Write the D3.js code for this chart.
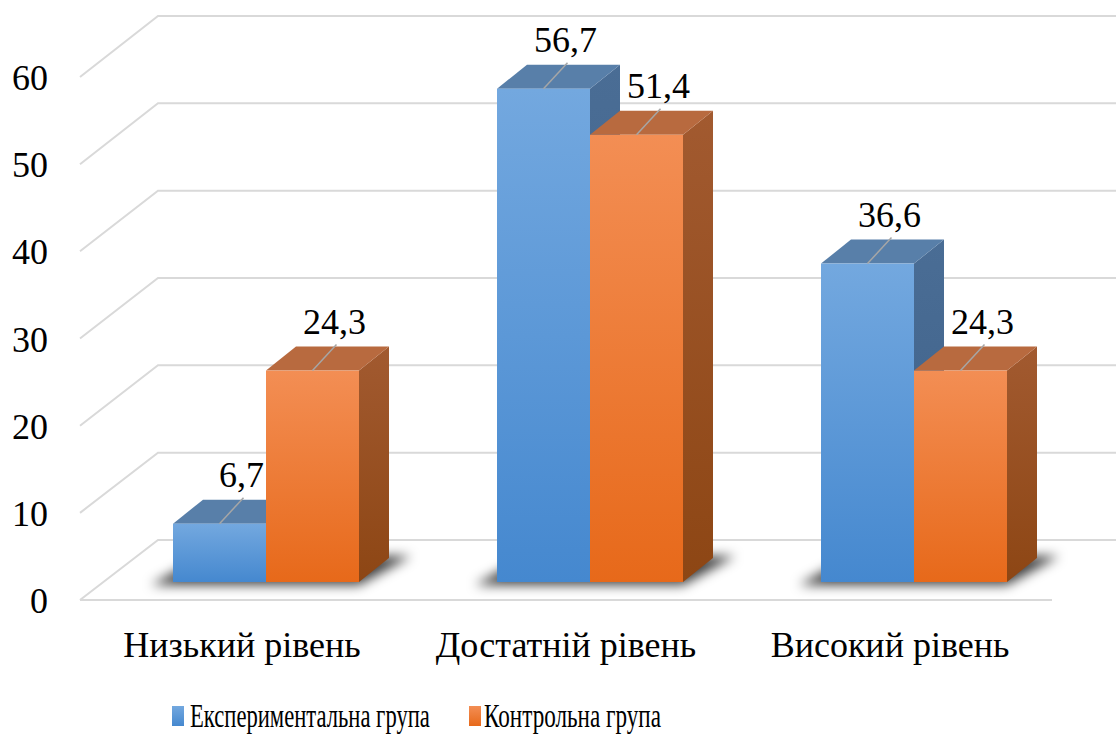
<!DOCTYPE html>
<html>
<head>
<meta charset="utf-8">
<script src="https://cdn.jsdelivr.net/npm/d3@7"></script>
<style>
	body { margin: 0; background: #fff; }
</style>
</head>
<body>
<svg id="chart" width="1116" height="736"></svg>
<script>
var categories = ["Низький рівень", "Достатній рівень", "Високий рівень"];
var seriesNames = ["Експериментальна група", "Контрольна група"];
var experimental = [6.7, 56.7, 36.6];
var control = [24.3, 51.4, 24.3];
var yTicks = [0, 10, 20, 30, 40, 50, 60];

var W = 1116, H = 736;
var FONT = "Liberation Serif";
var svg = d3.select("#chart");

// 3D box: front edge of the walls and back wall
var yFront = d3.scaleLinear().domain([0, 60]).range([600, 77]);
var yBack = d3.scaleLinear().domain([0, 60]).range([540, 16]);
var xFront = 80, xBack = 158, xFloorEnd = 1052;
// bars stand in the middle of the floor
var yBar = d3.scaleLinear().domain([0, 60]).range([582, 60]);
var xGroup = d3.scalePoint().domain(categories).range([266, 914]);
var xSeries = d3.scaleBand().domain(seriesNames).range([-93, 93]);
var depth = { dx: 30, dy: 24 };

var fmt = function(v) { return d3.format(".1f")(v).replace(".", ","); };

var colors = [
	{ frontTop: "#73a8df", frontBot: "#4588cf", top: "#587fa9", sideTop: "#4a6d95", sideBot: "#3d6088" },
	{ frontTop: "#f38e54", frontBot: "#e7691a", top: "#b86a3f", sideTop: "#a25a30", sideBot: "#8d4614" }
];

var defs = svg.append("defs");
colors.forEach(function(c, i) {
	var g = defs.append("linearGradient").attr("id", "front" + i)
		.attr("x1", 0).attr("y1", 0).attr("x2", 0).attr("y2", 1);
	g.append("stop").attr("offset", "0%").attr("stop-color", c.frontTop);
	g.append("stop").attr("offset", "100%").attr("stop-color", c.frontBot);
	var s = defs.append("linearGradient").attr("id", "side" + i)
		.attr("x1", 0).attr("y1", 0).attr("x2", 0).attr("y2", 1);
	s.append("stop").attr("offset", "0%").attr("stop-color", c.sideTop);
	s.append("stop").attr("offset", "100%").attr("stop-color", c.sideBot);
});
defs.append("filter").attr("id", "blur")
	.attr("x", "-20%").attr("y", "-50%").attr("width", "140%").attr("height", "200%")
	.append("feGaussianBlur").attr("stdDeviation", 6);

// gridlines: side wall diagonal + back wall
var grid = svg.append("g").attr("fill", "none").attr("stroke", "#d9d9d9").attr("stroke-width", 2);
yTicks.forEach(function(t) {
	grid.append("polyline")
		.attr("points", [[xFront, yFront(t)], [xBack, yBack(t)], [W, yBack(t)]].join(" "));
});
grid.append("line")
	.attr("x1", xFront).attr("y1", yFront(0))
	.attr("x2", xFloorEnd).attr("y2", yFront(0));

// y tick labels
svg.append("g").selectAll("text").data(yTicks).enter().append("text")
	.attr("x", 48).attr("y", function(d) { return yFront(d) + 13; })
	.attr("text-anchor", "end").attr("font-size", 36).attr("font-family", FONT)
	.text(function(d) { return d; });

// shadows on the floor
var shadows = svg.append("g").attr("filter", "url(#blur)");
categories.forEach(function(c) {
	var x0 = xGroup(c) - 93, x1 = xGroup(c) + 93, yb = yBar(0);
	shadows.append("polygon")
		.attr("points", [[x0 - 22, yb + 3], [x1, yb + 3], [x1 + depth.dx + 22, yb - depth.dy - 2], [x0 + depth.dx, yb - depth.dy - 2]].join(" "))
		.attr("fill", "#000").attr("opacity", 0.75);
});

// bars
var series = [experimental, control];
var bars = svg.append("g");
var labels = svg.append("g");
categories.forEach(function(c, ci) {
	series.forEach(function(vals, si) {
		var v = vals[ci];
		var x0 = xGroup(c) + xSeries(seriesNames[si]);
		var x1 = x0 + xSeries.bandwidth();
		var yt = yBar(v), yb = yBar(0);
		var dx = depth.dx, dy = depth.dy;
		var col = colors[si];
		bars.append("polygon")
			.attr("points", [[x1, yt], [x1 + dx, yt - dy], [x1 + dx, yb - dy], [x1, yb]].join(" "))
			.attr("fill", "url(#side" + si + ")");
		bars.append("polygon")
			.attr("points", [[x0, yt], [x0 + dx, yt - dy], [x1 + dx, yt - dy], [x1, yt]].join(" "))
			.attr("fill", col.top);
		bars.append("rect")
			.attr("x", x0).attr("y", yt).attr("width", x1 - x0).attr("height", yb - yt)
			.attr("fill", "url(#front" + si + ")");

		// leader line and data label
		var cx = (x0 + x1) / 2;
		labels.append("line")
			.attr("x1", cx).attr("y1", yt).attr("x2", cx + 24).attr("y2", yt - 26)
			.attr("stroke", "#a6a6a6").attr("stroke-width", 1.5);
		labels.append("text")
			.attr("x", cx + 22).attr("y", yt - 37)
			.attr("text-anchor", "middle").attr("font-size", 36).attr("font-family", FONT)
			.text(fmt(v));
	});
});

// category labels
svg.append("g").selectAll("text").data(categories).enter().append("text")
	.attr("x", function(d) { return xGroup(d) - 24; })
	.attr("y", 657)
	.attr("text-anchor", "middle").attr("font-size", 36).attr("font-family", FONT)
	.text(function(d) { return d; });

// legend (squeezed horizontally like the original)
var legendItems = [
	{ name: seriesNames[0], mx: 172, tx: 190, tw: 240 },
	{ name: seriesNames[1], mx: 469, tx: 484, tw: 177 }
];
var legend = svg.append("g");
legendItems.forEach(function(d, i) {
	legend.append("rect")
		.attr("x", d.mx).attr("y", 706).attr("width", 12).attr("height", 20)
		.attr("fill", "url(#front" + i + ")");
	var t = legend.append("text")
		.attr("font-size", 33).attr("font-family", FONT)
		.text(d.name);
	var w = t.node().getComputedTextLength();
	t.attr("transform", "translate(" + d.tx + ",727) scale(" + (d.tw / w) + ",1)");
});
</script>
</body>
</html>
